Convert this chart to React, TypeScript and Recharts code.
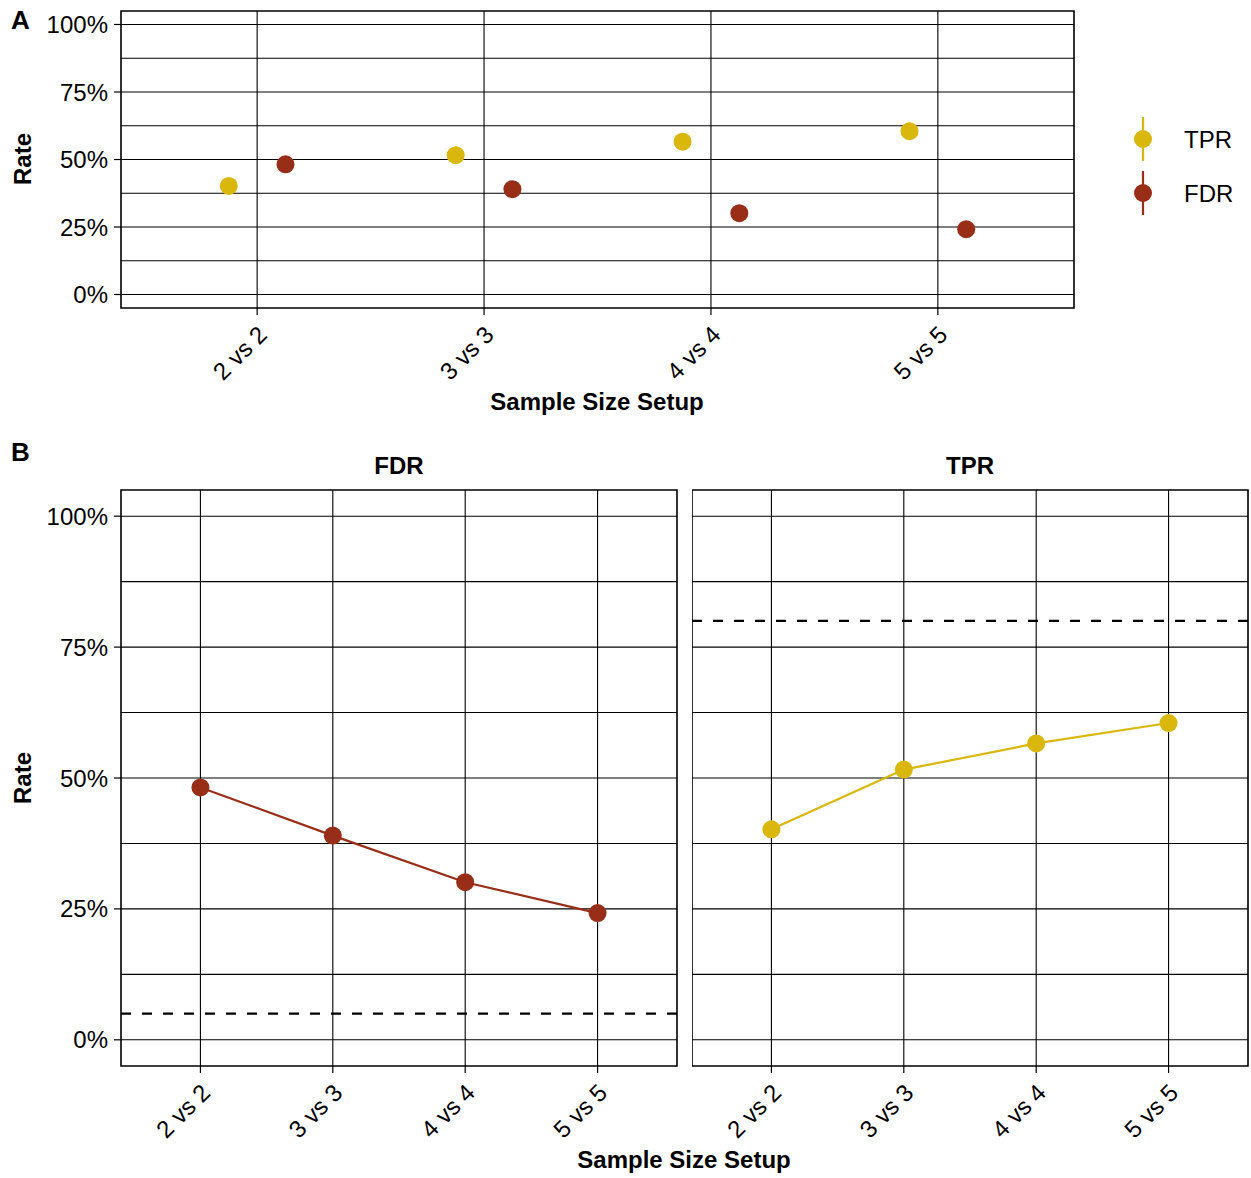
import React from 'react';
import {
  ComposedChart, Scatter, Line, XAxis, YAxis, CartesianGrid, ReferenceLine, ReferenceArea,
} from 'recharts';

const categories = ['2 vs 2', '3 vs 3', '4 vs 4', '5 vs 5'];
const tprValues = [0.402, 0.516, 0.566, 0.605];
const fdrValues = [0.482, 0.390, 0.301, 0.242];
const fdrThreshold = 0.05;
const tprTarget = 0.8;
const yTicks = [0, 0.25, 0.5, 0.75, 1];
const yGridValues = [0, 0.125, 0.25, 0.375, 0.5, 0.625, 0.75, 0.875, 1];
const xPositions = [1, 2, 3, 4];
const dodge = 0.125;

const TPR_COLOR = '#D9B70C';
const FDR_COLOR = '#992E18';
const FONT = '"Liberation Sans", Arial, Helvetica, sans-serif';

const tprDodged = tprValues.map((v, i) => ({ x: xPositions[i] - dodge, y: v }));
const fdrDodged = fdrValues.map((v, i) => ({ x: xPositions[i] + dodge, y: v }));
const tprLine = tprValues.map((v, i) => ({ x: xPositions[i], y: v }));
const fdrLine = fdrValues.map((v, i) => ({ x: xPositions[i], y: v }));

const pct = (v: number) => `${Math.round(v * 100)}%`;

const XTick = (props: any) => {
  const { x, y, payload } = props;
  const ax = x - 1;
  const ay = y + 7;
  return (
    <text
      x={ax}
      y={ay}
      dy="0.72em"
      textAnchor="end"
      transform={`rotate(-45 ${ax} ${ay})`}
      fontSize={24}
      fontFamily={FONT}
      fill="#000"
    >
      {categories[payload.value - 1]}
    </text>
  );
};

const YTickStyle = { fontSize: 24, fontFamily: FONT, fill: '#000' };
const YTickHidden = { fontSize: 24, fontFamily: FONT, fill: 'none' };

const Dot = (color: string) => (props: any) => {
  const { cx, cy } = props;
  if (cx == null || cy == null) return null;
  return <circle cx={cx} cy={cy} r={9} fill={color} stroke="none" />;
};

const commonAxes = (showY: boolean) => [
  <XAxis
    key="x"
    type="number"
    dataKey="x"
    domain={[0.4, 4.6]}
    ticks={xPositions}
    allowDataOverflow
    axisLine={false}
    tickLine={{ stroke: '#000', strokeWidth: 1.2 }}
    tickSize={7}
    tickMargin={2}
    tick={<XTick />}
    height={94}
    interval={0}
  />,
  <YAxis
    key="y"
    type="number"
    dataKey="y"
    domain={[-0.05, 1.05]}
    ticks={yTicks}
    allowDataOverflow
    axisLine={false}
    tickLine={showY ? { stroke: '#000', strokeWidth: 1.2 } : false}
    tickSize={7}
    tickMargin={6}
    tick={showY ? YTickStyle : YTickHidden}
    tickFormatter={showY ? pct : () => ''}
    width={showY ? 121 : 0}
    interval={0}
  />,
];

const grid = (
  <CartesianGrid
    horizontalValues={yGridValues}
    verticalValues={xPositions}
    stroke="#000"
    strokeWidth={1.1}
    strokeDasharray=""
  />
);

export default function App() {
  return (
    <div style={{ position: 'absolute', left: 0, top: 0, width: 1251, height: 1178, background: '#fff', fontFamily: FONT }}>
      {/* Panel A */}
      <div style={{ position: 'absolute', left: 0, top: 0 }}>
        <ComposedChart width={1100} height={402} margin={{ top: 11, right: 26, bottom: 0, left: 0 }}>
          {grid}
          {commonAxes(true)}
          <ReferenceArea x1={0.4} x2={4.6} y1={-0.05} y2={1.05} fill="none" stroke="#000" strokeWidth={1.6} ifOverflow="visible" />
          <Scatter name="TPR" data={tprDodged} dataKey="y" fill={TPR_COLOR} shape={Dot(TPR_COLOR)} isAnimationActive={false} />
          <Scatter name="FDR" data={fdrDodged} dataKey="y" fill={FDR_COLOR} shape={Dot(FDR_COLOR)} isAnimationActive={false} />
        </ComposedChart>
      </div>

      {/* Panel B left: FDR */}
      <div style={{ position: 'absolute', left: 0, top: 480 }}>
        <ComposedChart width={700} height={680} margin={{ top: 10, right: 23, bottom: 0, left: 0 }}>
          {grid}
          {commonAxes(true)}
          <ReferenceArea x1={0.4} x2={4.6} y1={-0.05} y2={1.05} fill="none" stroke="#000" strokeWidth={1.6} ifOverflow="visible" />
          <ReferenceLine y={fdrThreshold} stroke="#000" strokeWidth={2.4} strokeDasharray="10 11" />
          <Line data={fdrLine} dataKey="y" stroke={FDR_COLOR} strokeWidth={2.2} dot={Dot(FDR_COLOR)} activeDot={false} isAnimationActive={false} />
        </ComposedChart>
      </div>

      {/* Panel B right: TPR */}
      <div style={{ position: 'absolute', left: 692, top: 480 }}>
        <ComposedChart width={559} height={680} margin={{ top: 10, right: 3, bottom: 0, left: 0 }}>
          {grid}
          {commonAxes(false)}
          <ReferenceArea x1={0.4} x2={4.6} y1={-0.05} y2={1.05} fill="none" stroke="#000" strokeWidth={1.6} ifOverflow="visible" />
          <ReferenceLine y={tprTarget} stroke="#000" strokeWidth={2.4} strokeDasharray="10 11" />
          <Line data={tprLine} dataKey="y" stroke={TPR_COLOR} strokeWidth={2.2} dot={Dot(TPR_COLOR)} activeDot={false} isAnimationActive={false} />
        </ComposedChart>
      </div>

      {/* Text overlay: titles, labels, legend */}
      <svg width={1251} height={1178} style={{ position: 'absolute', left: 0, top: 0, pointerEvents: 'none' }} fontFamily={FONT}>
        <text x={11} y={29} fontSize={26} fontWeight="bold" fill="#000">A</text>
        <text x={11} y={461} fontSize={26} fontWeight="bold" fill="#000">B</text>

        <text x={31} y={159} fontSize={24} fontWeight="bold" textAnchor="middle" transform="rotate(-90 31 159)" fill="#000">Rate</text>
        <text x={31} y={778} fontSize={24} fontWeight="bold" textAnchor="middle" transform="rotate(-90 31 778)" fill="#000">Rate</text>

        <text x={597} y={410} fontSize={24} fontWeight="bold" textAnchor="middle" fill="#000">Sample Size Setup</text>
        <text x={684} y={1168} fontSize={24} fontWeight="bold" textAnchor="middle" fill="#000">Sample Size Setup</text>

        <text x={399} y={474} fontSize={24} fontWeight="bold" textAnchor="middle" fill="#000">FDR</text>
        <text x={970} y={474} fontSize={24} fontWeight="bold" textAnchor="middle" fill="#000">TPR</text>

        <line x1={1143} x2={1143} y1={117} y2={161} stroke={TPR_COLOR} strokeWidth={2.2} />
        <circle cx={1143} cy={139} r={9} fill={TPR_COLOR} />
        <text x={1184} y={147.5} fontSize={24} fill="#000">TPR</text>
        <line x1={1143} x2={1143} y1={171} y2={215} stroke={FDR_COLOR} strokeWidth={2.2} />
        <circle cx={1143} cy={193} r={9} fill={FDR_COLOR} />
        <text x={1184} y={201.5} fontSize={24} fill="#000">FDR</text>
      </svg>
    </div>
  );
}
